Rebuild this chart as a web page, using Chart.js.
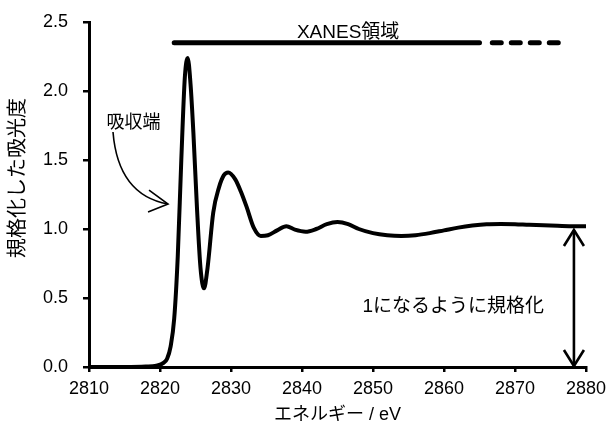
<!DOCTYPE html>
<html>
<head>
<meta charset="utf-8">
<script src="https://cdn.jsdelivr.net/npm/chart.js@4"></script>
<style>
  body { margin: 0; background: #fff; }
  #wrap { width: 606px; height: 430px; }
</style>
</head>
<body>
<div id="wrap"><canvas id="xanes" width="606" height="430"></canvas></div>
<script>
// スペクトル (エネルギー eV, 規格化吸光度)
const energy = [2810, 2815, 2818, 2819.5, 2820.5, 2821, 2821.5, 2822, 2822.5, 2823, 2823.5, 2823.9,
  2824.3, 2824.7, 2825.2, 2825.7, 2826.2, 2826.7, 2827.5, 2828.3, 2829, 2829.6, 2830.6, 2831.4, 2832.2,
  2833.2, 2834.2, 2835.2, 2836.5, 2837.8, 2839, 2840.5, 2842, 2843.5, 2845, 2846.5, 2848, 2850,
  2852, 2854, 2856, 2858, 2860, 2862, 2864, 2866, 2868, 2870, 2872, 2875, 2878, 2880];
const absorbance = [0, 0, 0.003, 0.01, 0.03, 0.06, 0.15, 0.35, 0.8, 1.5, 2.1, 2.24,
  2.05, 1.7, 1.16, 0.72, 0.57, 0.72, 1.12, 1.3, 1.39, 1.41, 1.36, 1.27, 1.16,
  1.01, 0.95, 0.955, 0.99, 1.02, 0.995, 0.98, 1.0, 1.035, 1.05, 1.035, 1.0, 0.97,
  0.955, 0.95, 0.955, 0.97, 0.99, 1.01, 1.025, 1.035, 1.037, 1.035, 1.03, 1.025, 1.02, 1.02];

// XANES領域のバー
const xanesSolid = [2822.0, 2865.0];
const xanesDashed = [2866.8, 2876.1];
const xanesLevel = 2.35;

const xTicks = [2810, 2820, 2830, 2840, 2850, 2860, 2870, 2880];
const yTicks = [0, 0.5, 1.0, 1.5, 2.0, 2.5];

const labelFont = 'Liberation Sans, Arial, "Noto Sans CJK JP", sans-serif';

function toPoints(xs, ys) {
  return xs.map((x, i) => ({ x: x, y: Array.isArray(ys) ? ys[i] : ys }));
}

// 注釈 (テキストと矢印)
const notes = {
  id: 'notes',
  afterDatasetsDraw(chart) {
    const ctx = chart.ctx;
    const xs = chart.scales.x;
    const ys = chart.scales.y;
    const px = v => xs.getPixelForValue(v);
    const py = v => ys.getPixelForValue(v);

    ctx.save();
    ctx.fillStyle = '#000';
    ctx.strokeStyle = '#000';
    ctx.textAlign = 'center';
    ctx.textBaseline = 'middle';
    ctx.font = '19px ' + labelFont;
    ctx.fillText('XANES領域', px(2846.5), py(2.42));
    ctx.fillText('1になるように規格化', px(2861.3), py(0.435));
    ctx.font = '18px ' + labelFont;
    ctx.fillText('吸収端', px(2816.27), py(1.768));

    // 縦軸タイトル
    ctx.save();
    ctx.translate(18, 178);
    ctx.rotate(-Math.PI / 2);
    ctx.font = '20px ' + labelFont;
    ctx.fillText('規格化した吸光度', 0, 0);
    ctx.restore();

    // 吸収端の曲がった矢印
    const sx = px(2813.38), sy = py(1.703);
    const cx = px(2814.1), cy = py(1.246);
    const tx = px(2821.13), ty = py(1.181);
    ctx.lineWidth = 1.6;
    ctx.beginPath();
    ctx.moveTo(sx, sy);
    ctx.quadraticCurveTo(cx, cy, tx, ty);
    ctx.stroke();
    ctx.beginPath();
    ctx.moveTo(tx - 19, ty - 14);
    ctx.lineTo(tx, ty);
    ctx.lineTo(tx - 20, ty + 8);
    ctx.stroke();

    // 両矢印
    const ax = px(2878.3);
    const top = py(1.0) + 1;
    const bot = py(0) - 1;
    ctx.lineWidth = 2.6;
    ctx.beginPath();
    ctx.moveTo(ax, top);
    ctx.lineTo(ax, bot);
    ctx.stroke();
    ctx.beginPath();
    ctx.moveTo(ax - 10, top + 16);
    ctx.lineTo(ax, top);
    ctx.lineTo(ax + 10, top + 16);
    ctx.moveTo(ax - 10, bot - 16);
    ctx.lineTo(ax, bot);
    ctx.lineTo(ax + 10, bot - 16);
    ctx.stroke();
    ctx.restore();
  }
};

new Chart(document.getElementById('xanes'), {
  type: 'line',
  data: {
    datasets: [
      {
        data: toPoints(energy, absorbance),
        borderColor: '#000',
        borderWidth: 4,
        pointRadius: 0,
        cubicInterpolationMode: 'monotone',
        clip: false
      },
      {
        data: toPoints(xanesSolid, xanesLevel),
        borderColor: '#000',
        borderWidth: 5,
        borderCapStyle: 'round',
        pointRadius: 0
      },
      {
        data: toPoints(xanesDashed, xanesLevel),
        borderColor: '#000',
        borderWidth: 5,
        borderCapStyle: 'round',
        borderDash: [9, 10],
        pointRadius: 0
      }
    ]
  },
  options: {
    responsive: false,
    animation: false,
    layout: { padding: { top: 22, right: 20, left: 0, bottom: 0 } },
    plugins: { legend: { display: false }, tooltip: { enabled: false } },
    scales: {
      x: {
        type: 'linear',
        min: 2810,
        max: 2880,
        afterBuildTicks: s => { s.ticks = xTicks.map(v => ({ value: v })); },
        afterFit: s => { s.height = 63; s.paddingLeft = 0; s.paddingRight = 0; },
        ticks: { color: '#000', font: { size: 18, family: labelFont }, padding: 6, maxRotation: 0, callback: v => String(v) },
        grid: { drawOnChartArea: false, color: '#000', lineWidth: 2.5, tickLength: 5 },
        border: { color: '#000', width: 3 },
        title: {
          display: true,
          text: 'エネルギー / eV',
          color: '#000',
          font: { size: 18, family: labelFont },
          padding: { top: 0, bottom: 4 }
        }
      },
      y: {
        min: 0,
        max: 2.5,
        afterBuildTicks: s => { s.ticks = yTicks.map(v => ({ value: v })); },
        afterFit: s => { s.width = 89; s.paddingTop = 0; s.paddingBottom = 0; },
        ticks: { color: '#000', font: { size: 18, family: labelFont }, padding: 15, callback: v => v.toFixed(1) },
        grid: { drawOnChartArea: false, color: '#000', lineWidth: 2.5, tickLength: 6 },
        border: { color: '#000', width: 3 }
      }
    }
  },
  plugins: [notes]
});
</script>
</body>
</html>
